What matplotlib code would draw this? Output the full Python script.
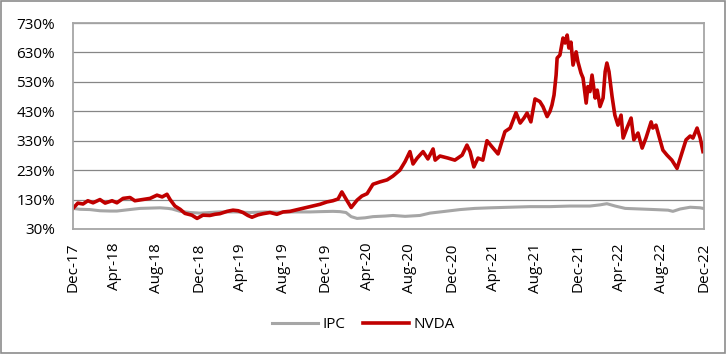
import matplotlib
matplotlib.use("Agg")
import matplotlib.pyplot as plt
import matplotlib.dates as mdates
from matplotlib.patches import Rectangle
import pandas as pd

plt.rcParams['font.family'] = ['Open Sans', 'DejaVu Sans']

nvda_dates = [
    "2017-12-01", "2017-12-15", "2017-12-30", "2018-01-13", "2018-01-28", "2018-02-17",
    "2018-03-04", "2018-03-24", "2018-04-07", "2018-04-25", "2018-05-15", "2018-05-29",
    "2018-06-19", "2018-07-12", "2018-08-01", "2018-08-16", "2018-08-30", "2018-09-08",
    "2018-09-22", "2018-10-07", "2018-10-21", "2018-11-10", "2018-11-25", "2018-12-12",
    "2019-01-01", "2019-01-16", "2019-01-30", "2019-02-20", "2019-03-09", "2019-03-24",
    "2019-04-07", "2019-04-21", "2019-05-03", "2019-05-20", "2019-06-04", "2019-06-24",
    "2019-07-14", "2019-08-01", "2019-08-21", "2019-09-19", "2019-10-18", "2019-11-16",
    "2019-12-06", "2019-12-23", "2020-01-07", "2020-01-18", "2020-01-30", "2020-02-14",
    "2020-03-02", "2020-03-16", "2020-03-31", "2020-04-17", "2020-05-07", "2020-05-28",
    "2020-06-14", "2020-07-04", "2020-07-19", "2020-08-02", "2020-08-11", "2020-08-23",
    "2020-09-09", "2020-09-23", "2020-10-08", "2020-10-14", "2020-10-28", "2020-11-20",
    "2020-12-10", "2020-12-31", "2021-01-14", "2021-01-23", "2021-02-03", "2021-02-15",
    "2021-03-01", "2021-03-13", "2021-03-27", "2021-04-14", "2021-05-04", "2021-05-19",
    "2021-06-05", "2021-06-17", "2021-06-28", "2021-07-07", "2021-07-18", "2021-07-30",
    "2021-08-13", "2021-08-22", "2021-09-03", "2021-09-11", "2021-09-17", "2021-09-23",
    "2021-09-29", "2021-10-02", "2021-10-10", "2021-10-19", "2021-10-25", "2021-10-31",
    "2021-11-05", "2021-11-11", "2021-11-17", "2021-11-26", "2021-12-01", "2021-12-10",
    "2021-12-16", "2021-12-25", "2021-12-30", "2022-01-05", "2022-01-11", "2022-01-20",
    "2022-01-26", "2022-02-03", "2022-02-12", "2022-02-18", "2022-02-23", "2022-03-01",
    "2022-03-10", "2022-03-18", "2022-03-27", "2022-04-05", "2022-04-11", "2022-04-22",
    "2022-05-04", "2022-05-12", "2022-05-24", "2022-06-05", "2022-06-16", "2022-07-01",
    "2022-07-06", "2022-07-15", "2022-07-24", "2022-08-04", "2022-08-16", "2022-08-30",
    "2022-09-14", "2022-09-28", "2022-10-10", "2022-10-22", "2022-10-30", "2022-11-11",
    "2022-11-20", "2022-11-28",
]
nvda_values = [
    100, 118, 115, 126, 119, 130,
    118, 126, 119, 134, 137, 126,
    130, 134, 145, 139, 148, 130,
    108, 97, 83, 77, 66, 77,
    76, 80, 82, 90, 94, 92,
    86, 76, 70, 78, 82, 86,
    80, 88, 90, 98, 106, 114,
    122, 126, 132, 156, 132, 103,
    128, 142, 150, 182, 190, 197,
    210, 230, 259, 293, 251, 271,
    293, 268, 302, 264, 278, 271,
    264, 281, 315, 293, 241, 271,
    264, 330, 310, 285, 361, 373,
    425, 390, 407, 424, 394, 472,
    463, 446, 412, 429, 451, 485,
    553, 611, 621, 679, 662, 689,
    645, 665, 587, 632, 599, 560,
    543, 458, 514, 497, 553, 475,
    502, 446, 475, 565, 594, 565,
    480, 417, 383, 417, 339, 373,
    407, 333, 356, 305, 339, 394,
    373, 383, 344, 298, 281, 264,
    236, 288, 333, 346, 339, 373,
    339, 293,
]

ipc_dates = [
    "2017-12-01", "2017-12-21", "2018-01-19", "2018-02-17", "2018-03-18", "2018-04-07",
    "2018-05-06", "2018-06-13", "2018-07-12", "2018-08-10", "2018-09-02", "2018-09-14",
    "2018-10-07", "2018-11-05", "2018-12-03", "2019-01-01", "2019-01-30", "2019-03-15",
    "2019-04-27", "2019-06-10", "2019-07-23", "2019-09-04", "2019-10-18", "2019-11-16",
    "2019-12-23", "2020-01-13", "2020-01-30", "2020-02-14", "2020-03-02", "2020-03-25",
    "2020-04-17", "2020-05-22", "2020-06-14", "2020-07-19", "2020-08-31", "2020-09-29",
    "2020-11-12", "2020-12-25", "2021-02-06", "2021-03-22", "2021-05-19", "2021-07-16",
    "2021-09-11", "2021-11-08", "2022-01-05", "2022-02-03", "2022-02-23", "2022-03-19",
    "2022-04-17", "2022-05-30", "2022-07-12", "2022-08-19", "2022-09-02", "2022-09-23",
    "2022-10-22", "2022-11-20", "2022-11-28",
]
ipc_values = [
    100, 97, 96, 92, 91, 91,
    95, 100, 101, 102, 100, 98,
    90, 86, 84, 86, 88, 88,
    86, 88, 87, 88, 88, 89,
    90, 89, 86, 72, 66, 68,
    72, 74, 76, 73, 76, 84,
    90, 96, 100, 102, 104, 106,
    106, 108, 108, 112, 116, 108,
    100, 98, 96, 94, 90, 98,
    104, 102, 100,
]

y_ticks = [30, 130, 230, 330, 430, 530, 630, 730]
x_ticks = ["2017-12-01", "2018-04-01", "2018-08-01", "2018-12-01", "2019-04-01",
           "2019-08-01", "2019-12-01", "2020-04-01", "2020-08-01", "2020-12-01",
           "2021-04-01", "2021-08-01", "2021-12-01", "2022-04-01", "2022-08-01",
           "2022-12-01"]

fig = plt.figure(figsize=(7.27, 3.57), dpi=100)
ax = fig.add_axes([73/727, 1-229/357, (704-73)/727, (229-23)/357])

ax.plot(pd.to_datetime(ipc_dates), ipc_values, color="#A6A6A6", lw=2.2, label="IPC",
        solid_joinstyle="round")
ax.plot(pd.to_datetime(nvda_dates), nvda_values, color="#C00000", lw=2.6, label="NVDA",
        solid_joinstyle="round")

ax.set_ylim(30, 730)
ax.set_yticks(y_ticks)
ax.set_yticklabels([f"{v}%" for v in y_ticks])
ax.set_xlim(pd.Timestamp("2017-12-01"), pd.Timestamp("2022-12-01"))
ax.set_xticks(pd.to_datetime(x_ticks))
ax.xaxis.set_major_formatter(mdates.DateFormatter("%b-%y"))
plt.setp(ax.get_xticklabels(), rotation=90)

ax.grid(axis="y", color="#868686", lw=0.9)
ax.set_axisbelow(True)
for s in ax.spines.values():
    s.set_color("#A6A6A6")
    s.set_linewidth(1.3)
ax.tick_params(axis="both", length=0, labelsize=11, colors="black")
ax.tick_params(axis="y", pad=13)
ax.tick_params(axis="x", pad=10)

fig.legend(loc="center", bbox_to_anchor=(0.5, 1-325/357), ncol=2, frameon=False,
           fontsize=11, handlelength=3.0, handletextpad=0.3, columnspacing=1.2)

fig.patches.append(Rectangle((0.001, 0.012), 0.996, 0.986, transform=fig.transFigure,
                             fill=False, edgecolor="#8C8C8C", lw=1.2))

fig.savefig("out.png", dpi=100)
